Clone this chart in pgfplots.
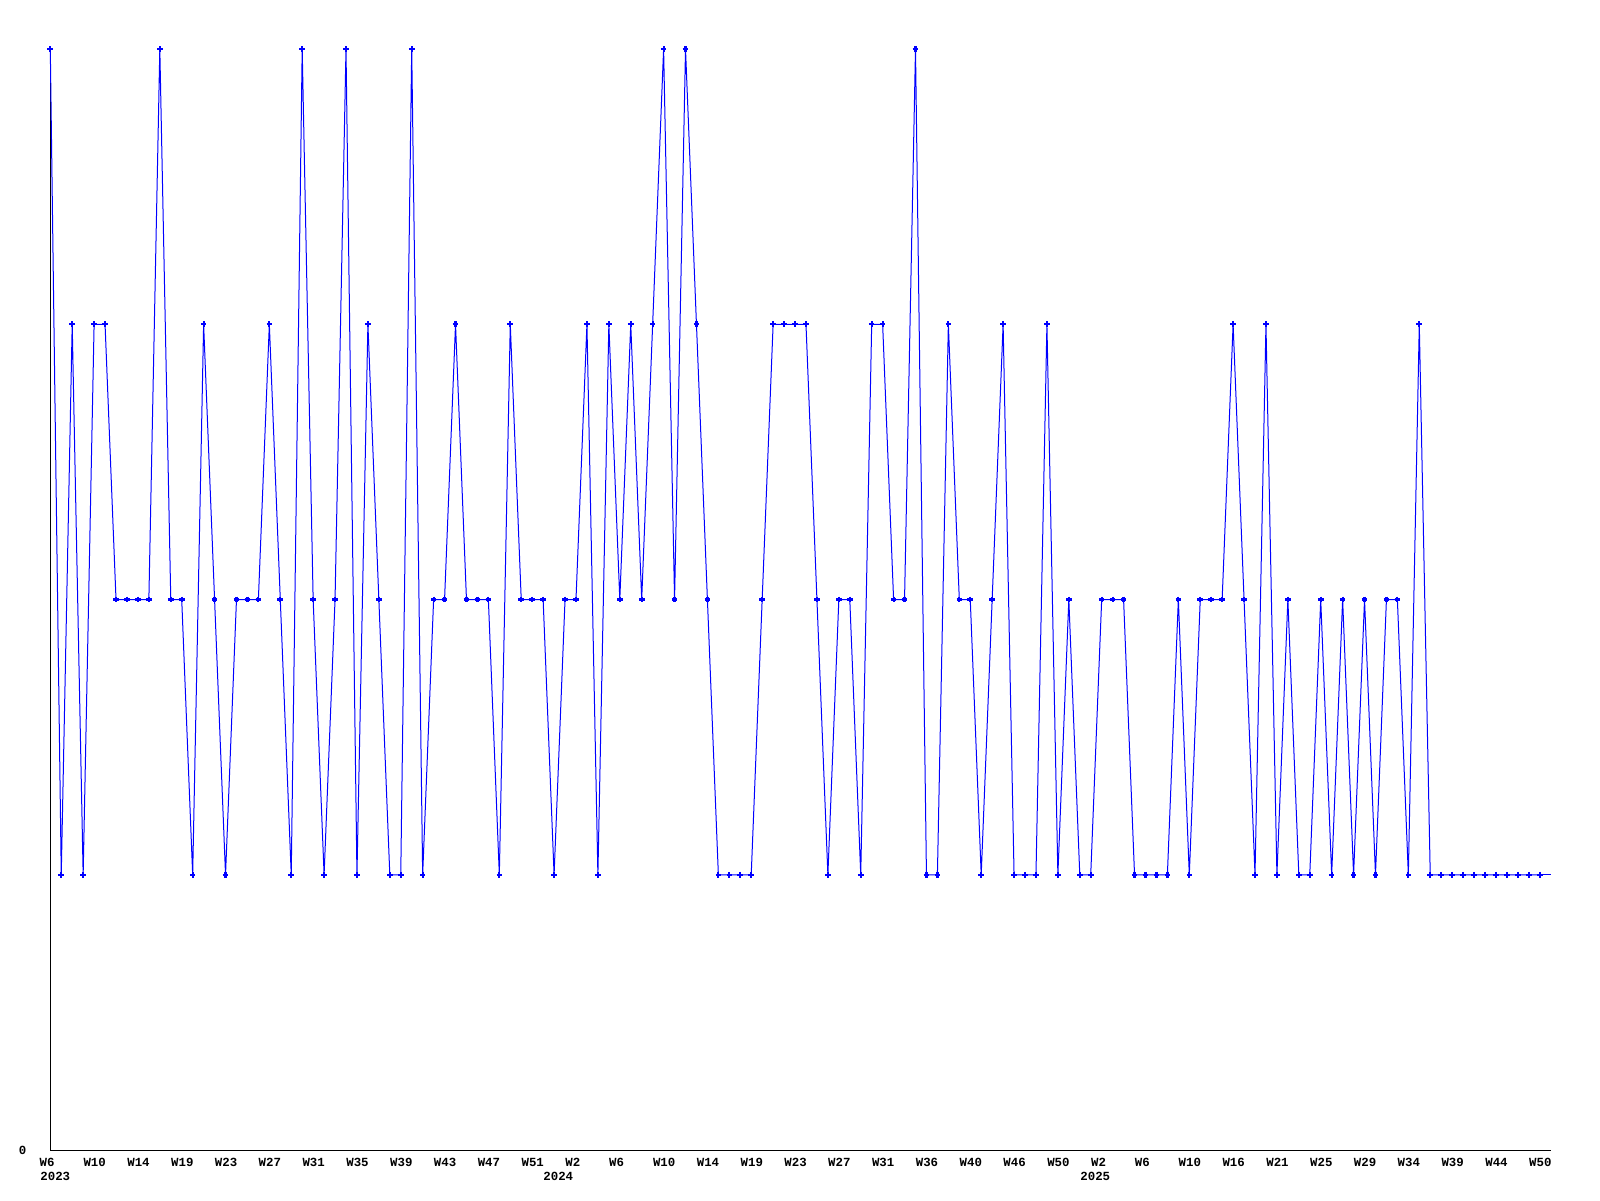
\documentclass[border=0pt]{standalone}
\usepackage{pgfplots}
\pgfplotsset{compat=1.18}
\usepackage{pgfplotstable}
\usepackage{fontspec}
\newfontfamily\lab{Liberation Mono}
\definecolor{rrdblue}{RGB}{0,0,255}
\pgfplotstableread{
i v
0 4
1 1
2 3
3 1
4 3
5 3
6 2
7 2
8 2
9 2
10 4
11 2
12 2
13 1
14 3
15 2
16 1
17 2
18 2
19 2
20 3
21 2
22 1
23 4
24 2
25 1
26 2
27 4
28 1
29 3
30 2
31 1
32 1
33 4
34 1
35 2
36 2
37 3
38 2
39 2
40 2
41 1
42 3
43 2
44 2
45 2
46 1
47 2
48 2
49 3
50 1
51 3
52 2
53 3
54 2
55 3
56 4
57 2
58 4
59 3
60 2
61 1
62 1
63 1
64 1
65 2
66 3
67 3
68 3
69 3
70 2
71 1
72 2
73 2
74 1
75 3
76 3
77 2
78 2
79 4
80 1
81 1
82 3
83 2
84 2
85 1
86 2
87 3
88 1
89 1
90 1
91 3
92 1
93 2
94 1
95 1
96 2
97 2
98 2
99 1
100 1
101 1
102 1
103 2
104 1
105 2
106 2
107 2
108 3
109 2
110 1
111 3
112 1
113 2
114 1
115 1
116 2
117 1
118 2
119 1
120 2
121 1
122 2
123 2
124 1
125 3
126 1
127 1
128 1
129 1
130 1
131 1
132 1
133 1
134 1
135 1
136 1
}\series
\begin{document}
\begin{tikzpicture}
\path[use as bounding box] (0,0) rectangle (800pt,600pt);
\begin{axis}[
  at={(25.15pt,25pt)}, anchor=south west,
  scale only axis, width=750.2pt, height=550.5pt,
  xmin=0, xmax=137, ymin=0, ymax=4,
  clip=false,
  axis x line=bottom, axis y line=left,
  axis line style={-, black, line width=0.5pt},
  major tick length=0pt,
  xtick={0,4,...,136},
  xticklabels={W6,W10,W14,W19,W23,W27,W31,W35,W39,W43,W47,W51,W2,W6,W10,W14,W19,W23,W27,W31,W36,W40,W46,W50,W2,W6,W10,W16,W21,W25,W29,W34,W39,W44,W50},
  x tick label style={font=\lab\bfseries\fontsize{6.2pt}{6.2pt}\selectfont, anchor=north west, inner sep=0pt, xshift=-5.5pt, yshift=-4pt},
  ytick={0}, yticklabels={0},
  y tick label style={font=\lab\bfseries\fontsize{6.2pt}{6.2pt}\selectfont, anchor=center, inner sep=0pt, xshift=-13.8pt},
]
\addplot[color=rrdblue, line width=0.5pt, forget plot] coordinates {(136,1) (137,1)};
\addplot[color=rrdblue, line width=0.5pt, mark=+, mark size=1.4pt, mark options={line width=1.1pt}] table[x=i, y=v] {\series};
\end{axis}
\node[anchor=north west, inner sep=0pt, font=\lab\bfseries\fontsize{6.2pt}{6.2pt}\selectfont] at (20pt,14.15pt) {2023};
\node[anchor=north west, inner sep=0pt, font=\lab\bfseries\fontsize{6.2pt}{6.2pt}\selectfont] at (271.5pt,14.15pt) {2024};
\node[anchor=north west, inner sep=0pt, font=\lab\bfseries\fontsize{6.2pt}{6.2pt}\selectfont] at (540pt,14.15pt) {2025};
\end{tikzpicture}
\end{document}
